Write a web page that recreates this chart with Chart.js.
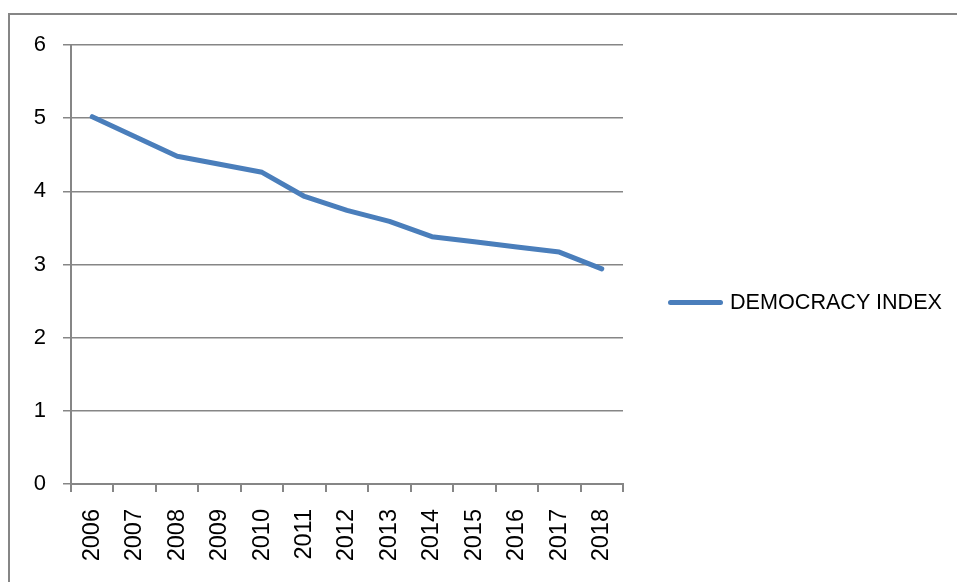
<!DOCTYPE html>
<html>
<head>
<meta charset="utf-8">
<script src="https://cdn.jsdelivr.net/npm/chart.js@4/dist/chart.umd.min.js"></script>
<style>
  html, body { margin: 0; padding: 0; background: #fff; overflow: hidden; }
  #wrap { position: relative; width: 957px; height: 582px; }
  #frame { position: absolute; left: 8px; top: 13px; width: 970px; height: 600px;
           border: 2px solid #868686; box-sizing: border-box; }
  #grafico { position: absolute; left: 0; top: 0; }
  #leyenda { position: absolute; left: 668px; top: 288px; height: 28px;
             display: flex; align-items: center; font-family: "Liberation Sans", Arial, sans-serif;
             font-size: 21.6px; color: #000; white-space: nowrap; }
  #leyenda .linea { width: 55px; height: 5px; border-radius: 3px; background: #4a7ebb; margin-right: 7px; }
</style>
</head>
<body>
<div id="wrap">
  <div id="frame"></div>
  <canvas id="grafico" width="957" height="582"></canvas>
  <div id="leyenda"><span class="linea"></span><span>DEMOCRACY INDEX</span></div>
</div>
<script>
// Datos del gráfico
const anios = ['2006', '2007', '2008', '2009', '2010', '2011', '2012', '2013', '2014', '2015', '2016', '2017', '2018'];
const indiceDemocracia = [5.02, 4.75, 4.48, 4.37, 4.26, 3.93, 3.74, 3.59, 3.38, 3.31, 3.24, 3.17, 2.94];
const nombreSerie = 'DEMOCRACY INDEX';

document.addEventListener("DOMContentLoaded", () => {
    const gris = '#868686';
    const ctx = document.getElementById('grafico');
    new Chart(ctx.getContext('2d'), {
        type: 'line',
        data: {
            labels: anios,
            datasets: [{
                label: nombreSerie,
                data: indiceDemocracia,
                borderColor: '#4a7ebb',
                backgroundColor: '#4a7ebb',
                borderWidth: 5,
                borderCapStyle: 'round',
                borderJoinStyle: 'round',
                pointRadius: 0,
                tension: 0
            }]
        },
        options: {
            responsive: false,
            animation: false,
            layout: { padding: { top: 45, right: 334, bottom: 0, left: 0 } },
            plugins: {
                legend: { display: false },
                tooltip: { enabled: false }
            },
            scales: {
                x: {
                    offset: true,
                    grid: { offset: true, drawOnChartArea: false, drawTicks: true, tickLength: 8, color: gris, lineWidth: 2 },
                    border: { display: true, color: gris, width: 2 },
                    ticks: {
                        minRotation: 90, maxRotation: 90, autoSkip: false, padding: 17,
                        color: '#000', font: { family: '"Liberation Sans", Arial, sans-serif', size: 23.5 }
                    },
                    afterFit: (scale) => { scale.height = 98; }
                },
                y: {
                    min: 0, max: 6,
                    grid: { color: gris, lineWidth: 1.5, tickLength: 8 },
                    border: { display: true, color: gris, width: 2 },
                    ticks: {
                        stepSize: 1, padding: 17, color: '#000',
                        font: { family: '"Liberation Sans", Arial, sans-serif', size: 22 }
                    },
                    afterFit: (scale) => { scale.width = 71; }
                }
            }
        }
    });
});
</script>
</body>
</html>
